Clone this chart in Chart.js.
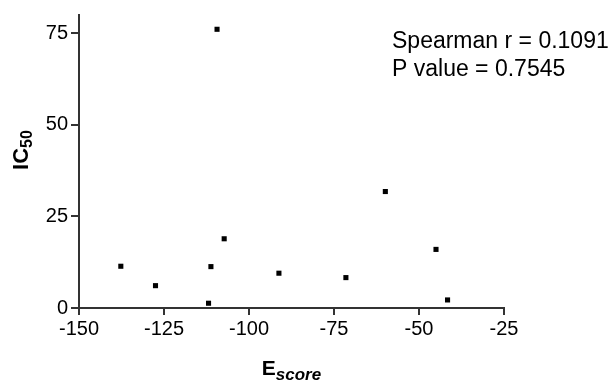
<!DOCTYPE html>
<html>
<head>
<meta charset="utf-8">
<script src="https://cdn.jsdelivr.net/npm/chart.js@4"></script>
<style>
  html, body { margin: 0; padding: 0; background: #fff; }
  #wrap { width: 612px; height: 381px; }
</style>
</head>
<body>
<div id="wrap"><canvas id="myChart" width="612" height="381"></canvas></div>
<script>
// values
const eScores = [-137.7, -127.5, -111.9, -111.2, -109.4, -107.3, -91.2, -71.5, -59.9, -45.0, -41.6];
const ic50 = [11.4, 6.1, 1.3, 11.3, 76.1, 18.9, 9.5, 8.3, 31.8, 16.0, 2.2];
const xTicks = [-150, -125, -100, -75, -50, -25];
const yTicks = [0, 25, 50, 75];
const statLines = ['Spearman r = 0.1091', 'P value = 0.7545'];

const FONT = "'Liberation Sans', Arial, sans-serif";
const axisColor = '#333333';

// axis titles with subscripts + the stats text
const textPlugin = {
  id: 'texts',
  afterDraw(chart) {
    const ctx = chart.ctx;
    const area = chart.chartArea;
    ctx.save();
    ctx.fillStyle = '#000';
    ctx.textBaseline = 'alphabetic';
    ctx.textAlign = 'left';

    // x title: E score
    ctx.font = 'bold 21px ' + FONT;
    const wE = ctx.measureText('E').width;
    ctx.font = 'italic bold 17px ' + FONT;
    const wS = ctx.measureText('score').width;
    let x0 = (area.left + area.right) / 2 - (wE + wS) / 2;
    ctx.font = 'bold 21px ' + FONT;
    ctx.fillText('E', x0, 375);
    ctx.font = 'italic bold 17px ' + FONT;
    ctx.fillText('score', x0 + wE, 380);

    // y title: IC 50, rotated
    ctx.save();
    ctx.translate(28, 150);
    ctx.rotate(-Math.PI / 2);
    ctx.font = 'bold 22px ' + FONT;
    const wI = ctx.measureText('IC').width;
    ctx.font = 'bold 16px ' + FONT;
    const w5 = ctx.measureText('50').width;
    const s = -(wI + w5) / 2;
    ctx.font = 'bold 22px ' + FONT;
    ctx.fillText('IC', s, 0);
    ctx.font = 'bold 16px ' + FONT;
    ctx.fillText('50', s + wI, 4);
    ctx.restore();

    // stats
    ctx.font = '23px ' + FONT;
    statLines.forEach((t, i) => ctx.fillText(t, 392, 48 + i * 28));
    ctx.restore();
  }
};

const ctx = document.getElementById('myChart');

new Chart(ctx, {
  type: 'scatter',
  data: {
    datasets: [{
      data: eScores.map((x, i) => ({ x: x, y: ic50[i] })),
      backgroundColor: '#000',
      borderWidth: 0,
      pointStyle: 'rect',
      pointRadius: 3.6,
      pointHoverRadius: 3.6
    }]
  },
  options: {
    responsive: false,
    animation: false,
    clip: false,
    layout: { padding: { top: 15, right: 108, left: 0, bottom: 0 } },
    plugins: { legend: { display: false }, tooltip: { enabled: false } },
    scales: {
      x: {
        type: 'linear',
        min: -150,
        max: -25,
        afterFit: (scale) => { scale.height = 73; },
        afterBuildTicks: (scale) => { scale.ticks = xTicks.map(v => ({ value: v })); },
        border: { color: axisColor, width: 2 },
        grid: { drawOnChartArea: false, drawTicks: true, tickLength: 7, color: axisColor, lineWidth: 2 },
        ticks: { color: '#000', padding: 2, maxRotation: 0, font: { family: FONT, size: 20 } }
      },
      y: {
        type: 'linear',
        min: 0,
        max: 80,
        afterFit: (scale) => { scale.width = 79; },
        afterBuildTicks: (scale) => { scale.ticks = yTicks.map(v => ({ value: v })); },
        border: { color: axisColor, width: 2 },
        grid: { drawOnChartArea: false, drawTicks: true, tickLength: 8, color: axisColor, lineWidth: 2 },
        ticks: { color: '#000', padding: 3, font: { family: FONT, size: 20 } }
      }
    }
  },
  plugins: [textPlugin]
});
</script>
</body>
</html>
